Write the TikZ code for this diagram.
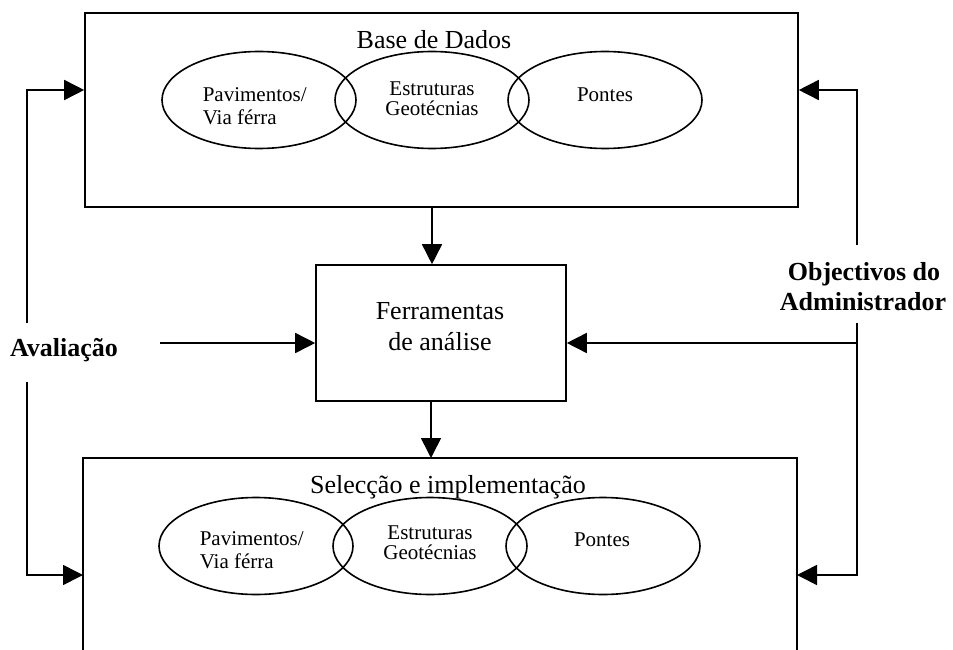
\documentclass[tikz,border=0pt]{standalone}
\usepackage{fontspec}
\setmainfont{Liberation Serif}
\usetikzlibrary{arrows.meta,shapes.geometric}
\begin{document}
\begin{tikzpicture}[x=1pt,y=-1pt,line width=1.6pt,
  arr/.style={-{Triangle[length=20pt,width=20pt]}},
  box/.style={draw,rectangle,inner sep=0pt},
  ell/.style={ellipse,draw,minimum width=194pt,minimum height=97pt,inner sep=0pt},
  big/.style={font=\fontsize{26}{30}\selectfont,anchor=base,inner sep=0pt},
  bigb/.style={font=\fontsize{26}{30}\selectfont\bfseries,anchor=base,inner sep=0pt},
  small/.style={font=\fontsize{21}{23}\selectfont,anchor=base,inner sep=0pt},
  smallw/.style={font=\fontsize{21}{23}\selectfont,anchor=base west,inner sep=0pt}]
\useasboundingbox (0,0) rectangle (953,650);

% boxes
\node[box,minimum width=713pt,minimum height=194pt] (top) at (441.5,110) {};
\node[box,minimum width=250pt,minimum height=136pt] (mid) at (441,333) {};
\coordinate (bl) at (83,458);
\coordinate (br) at (797,458);
\coordinate (blo) at (83,650);
\coordinate (bro) at (797,650);
\draw (blo) -- (bl) -- (br) -- (bro);

% top box content
\node[big] (bd) at (434,49) {Base de Dados};
\node[ell] (e1) at (259,100) {};
\node[ell] (e2) at (432,100) {};
\node[ell] (e3) at (605,100) {};
\node[smallw] (t1a) at (202,102) {Pavimentos/};
\node[smallw] (t1b) at (202,125) {Via férra};
\node[small] (t2a) at (432,96) {Estruturas};
\node[small] (t2b) at (432,116) {Geotécnias};
\node[small] (t3) at (605,102) {Pontes};

% middle box content
\node[big] (f1) at (440,319) {Ferramentas};
\node[big] (f2) at (440,350) {de análise};

% bottom box content
\node[big] (sel) at (448,493) {Selecção e implementação};
\node[ell] (b1) at (256,546) {};
\node[ell] (b2) at (430,546) {};
\node[ell] (b3) at (603,546) {};
\node[smallw] (s1a) at (199,545) {Pavimentos/};
\node[smallw] (s1b) at (199,568) {Via férra};
\node[small] (s2a) at (430,539) {Estruturas};
\node[small] (s2b) at (430,559) {Geotécnias};
\node[small] (s3) at (602,546) {Pontes};

% side labels
\node[bigb] (av) at (64,356) {Avaliação};
\node[bigb] (ob1) at (864,280) {Objectivos do};
\node[bigb] (ob2) at (863,310) {Administrador};

% helper coordinates
\coordinate (yA) at (0,90);
\coordinate (yC) at (0,575);
\coordinate (xa) at (432,0);
\coordinate (xb) at (431,0);
\coordinate (l1) at (27,323);
\coordinate (l2) at (27,382);
\coordinate (l3) at (160,343);
\coordinate (r1) at (857,245);
\coordinate (r2) at (857,323);
\coordinate (r3) at (857,343);

% connectors
\draw[arr] (top.south -| xa) -- (mid.north -| xa);
\draw[arr] (mid.south -| xb) -- (bl -| xb);
\draw[arr] (l1) |- (top.west |- yA);
\draw[arr] (l2) |- (bl |- yC);
\draw[arr] (l3) -- (mid.west |- l3);
\draw[arr] (r1) |- (top.east |- yA);
\draw[arr] (r2) |- (br |- yC);
\draw[arr] (r3) -- (mid.east |- r3);
\end{tikzpicture}
\end{document}
